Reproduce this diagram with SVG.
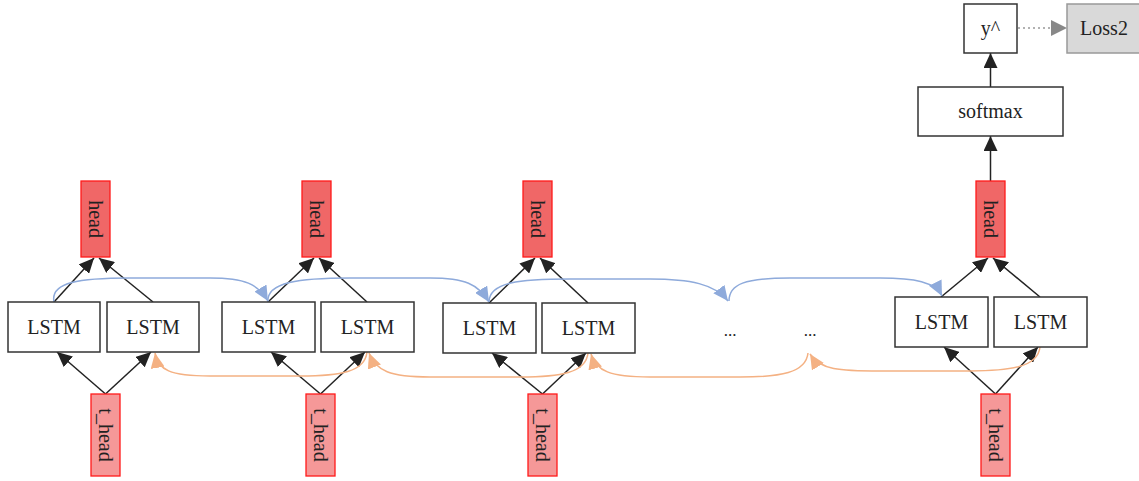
<svg xmlns="http://www.w3.org/2000/svg" width="1139" height="481" viewBox="0 0 1139 481">
<style>
.box{fill:#fff;stroke:#333;stroke-width:1.5}
.head{fill:#f06767;stroke:#ff1a1a;stroke-width:1.3}
.thead{fill:#f59898;stroke:#ff1a1a;stroke-width:1.3}
.loss{fill:#d9d9d9;stroke:#999;stroke-width:1.5}
text{font-family:"Liberation Serif",serif;font-size:20px;fill:#222;text-anchor:middle;dominant-baseline:central}
.blk{fill:none;stroke:#222;stroke-width:1.5;marker-end:url(#ab)}
.blue{fill:none;stroke:#8eaadb;stroke-width:1.5;marker-end:url(#abl)}
.org{fill:none;stroke:#f4b183;stroke-width:1.5;marker-end:url(#aor)}
.dot{fill:none;stroke:#999;stroke-width:1.3;stroke-dasharray:2,3;marker-end:url(#agr)}
</style>
<defs>
<marker id="ab" markerUnits="userSpaceOnUse" markerWidth="16" markerHeight="14" refX="15" refY="7" orient="auto"><path d="M0,0 L15,7 L0,14 z" fill="#222"/></marker>
<marker id="abl" markerUnits="userSpaceOnUse" markerWidth="16" markerHeight="14" refX="15" refY="7" orient="auto"><path d="M0,0 L15,7 L0,14 z" fill="#8eaadb"/></marker>
<marker id="aor" markerUnits="userSpaceOnUse" markerWidth="16" markerHeight="14" refX="15" refY="7" orient="auto"><path d="M0,0 L15,7 L0,14 z" fill="#f4b183"/></marker>
<marker id="agr" markerUnits="userSpaceOnUse" markerWidth="16" markerHeight="16" refX="16" refY="8" orient="auto"><path d="M0,0 L16,8 L0,16 z" fill="#888"/></marker>
</defs>

<g id="connectors">
<!-- group 1 -->
<path class="blk" d="M105.5,394 L57,352"/>
<path class="blk" d="M105.5,394 L151,352"/>
<path class="blk" d="M54,302 L94,258"/>
<path class="blk" d="M153,302 L99,258"/>
<!-- group 2 -->
<path class="blk" d="M320.5,394 L271,352"/>
<path class="blk" d="M320.5,394 L365,352"/>
<path class="blk" d="M268,302 L314,258"/>
<path class="blk" d="M367,302 L319,258"/>
<!-- group 3 -->
<path class="blk" d="M542.5,394 L492,353"/>
<path class="blk" d="M542.5,394 L586,353"/>
<path class="blk" d="M489,303 L535,258"/>
<path class="blk" d="M588,303 L540,258"/>
<!-- group 4 -->
<path class="blk" d="M995.5,394 L944,347"/>
<path class="blk" d="M995.5,394 L1038,347"/>
<path class="blk" d="M941,297 L988,258"/>
<path class="blk" d="M1040,297 L993,258"/>
<path class="blk" d="M990.5,181 L990.5,136"/>
<path class="blk" d="M990.5,87 L990.5,53"/>
<path class="dot" d="M1018,28 L1067,28"/>
<!-- blue forward -->
<path class="blue" d="M54,302 C50,282 80,278 130,278 L210,278 C245,278 258,284 268,301"/>
<path class="blue" d="M268,302 C266,282 300,278 350,278 L430,278 C465,278 478,284 489,302"/>
<path class="blue" d="M489,302 C489,282 520,279 570,279 L650,279 C690,279 715,284 728,301"/>
<path class="blue" d="M729,301 C729,284 745,278 790,278 L880,278 C915,278 935,282 942,296"/>
<!-- orange backward -->
<path class="org" d="M367,352 C365,372 340,376 300,376 L210,376 C170,376 158,370 155,353"/>
<path class="org" d="M588,353 C586,373 560,377 520,377 L430,377 C390,377 376,371 369,353"/>
<path class="org" d="M808,353 C806,373 780,377 740,377 L650,377 C610,377 596,371 591,354"/>
<path class="org" d="M1040,347 C1038,367 1010,371 970,371 L880,371 C840,371 820,370 810,354"/>
</g>

<g id="g1-lstm-a"><rect class="box" x="8" y="302" width="92" height="50"/><text x="54" y="327">LSTM</text></g>
<g id="g1-lstm-b"><rect class="box" x="107" y="302" width="92" height="50"/><text x="153" y="327">LSTM</text></g>
<g id="g1-head"><rect class="head" x="81" y="181" width="29" height="76"/><text transform="translate(95.5,219) rotate(90)">head</text></g>
<g id="g1-thead"><rect class="thead" x="91" y="394" width="29" height="82"/><text transform="translate(105.5,435) rotate(90)">t_head</text></g>

<g id="g2-lstm-a"><rect class="box" x="222" y="302" width="93" height="50"/><text x="268.5" y="327">LSTM</text></g>
<g id="g2-lstm-b"><rect class="box" x="321" y="302" width="93" height="50"/><text x="367.5" y="327">LSTM</text></g>
<g id="g2-head"><rect class="head" x="302" y="181" width="29" height="76"/><text transform="translate(316.5,219) rotate(90)">head</text></g>
<g id="g2-thead"><rect class="thead" x="306" y="394" width="29" height="82"/><text transform="translate(320.5,435) rotate(90)">t_head</text></g>

<g id="g3-lstm-a"><rect class="box" x="443" y="303" width="93" height="50"/><text x="489.5" y="328">LSTM</text></g>
<g id="g3-lstm-b"><rect class="box" x="542" y="303" width="93" height="50"/><text x="588.5" y="328">LSTM</text></g>
<g id="g3-head"><rect class="head" x="523" y="181" width="29" height="76"/><text transform="translate(537.5,219) rotate(90)">head</text></g>
<g id="g3-thead"><rect class="thead" x="528" y="394" width="29" height="82"/><text transform="translate(542.5,435) rotate(90)">t_head</text></g>

<g id="dots-a"><text x="730" y="330" style="font-size:17px">...</text></g>
<g id="dots-b"><text x="810" y="330" style="font-size:17px">...</text></g>

<g id="g4-lstm-a"><rect class="box" x="895" y="297" width="93" height="50"/><text x="941.5" y="322">LSTM</text></g>
<g id="g4-lstm-b"><rect class="box" x="994" y="297" width="93" height="50"/><text x="1040.5" y="322">LSTM</text></g>
<g id="g4-head"><rect class="head" x="976" y="181" width="29" height="76"/><text transform="translate(990.5,219) rotate(90)">head</text></g>
<g id="g4-thead"><rect class="thead" x="981" y="394" width="29" height="82"/><text transform="translate(995.5,435) rotate(90)">t_head</text></g>

<g id="softmax"><rect class="box" x="918" y="87" width="145" height="49"/><text x="990.5" y="111">softmax</text></g>
<g id="yhat"><rect class="box" x="964" y="4" width="53" height="49"/><text x="990.5" y="28">y^</text></g>
<g id="loss2"><rect class="loss" x="1067" y="4" width="75" height="49"/><text x="1104" y="28">Loss2</text></g>
</svg>
